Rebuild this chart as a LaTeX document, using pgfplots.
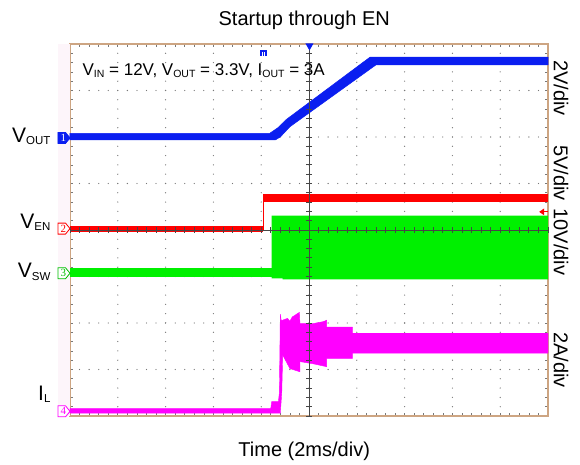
\documentclass[border=0pt]{standalone}
\usepackage{fontspec}
\setmainfont{Liberation Sans}
\newfontfamily\serifnum{Liberation Serif}
\usepackage{pgfplots}
\pgfplotsset{compat=1.18}
\definecolor{tblue}{RGB}{10,30,240}
\definecolor{tred}{RGB}{255,0,0}
\definecolor{tgreen}{RGB}{0,240,0}
\definecolor{tgreend}{RGB}{0,190,0}
\definecolor{tmag}{RGB}{255,0,255}
\definecolor{framec}{RGB}{205,165,130}
\definecolor{gridc}{RGB}{120,120,120}
\definecolor{crossc}{RGB}{70,70,70}
\definecolor{pinkbg}{RGB}{253,245,250}
\newcommand{\subS}[1]{\raisebox{-0.25ex}{\fontsize{10.5}{10.5}\selectfont #1}}
\newcommand{\subL}[1]{\raisebox{-0.2ex}{\fontsize{11.5}{11.5}\selectfont #1}}
% channel marker: #1 = y, #2 = fill, #3 = draw/text colour, #4 = number
\newcommand{\chmark}[4]{%
  \filldraw[fill=#2, draw=#3, line width=0.8pt] (axis cs:0,#1) -- ++(-4.5pt,5.5pt) -- ++(-7.5pt,0) -- ++(0,-11pt) -- ++(7.5pt,0) -- cycle;
  \node[text=#4, font=\fontsize{11}{11}\selectfont\serifnum, inner sep=0pt] at ([xshift=-6.8pt]axis cs:0,#1) {\strut\raisebox{0pt}{}};}
\begin{document}
\begin{tikzpicture}
\useasboundingbox (-70pt,-49pt) rectangle (510pt,416pt);
\begin{axis}[
  at={(0,0)}, anchor=south west,
  scale only axis, width=478pt, height=372pt,
  xmin=0, xmax=10, ymin=0, ymax=8,
  clip=false,
  xtick={0,...,10}, ytick={0,...,8},
  minor x tick num=4, minor y tick num=4,
  xticklabels={}, yticklabels={},
  tick align=inside,
  major tick length=3pt, minor tick length=3pt,
  tick style={gridc, line width=0.6pt},
  axis line style={framec, line width=1.2pt},
  grid=major,
  x grid style={gridc, line width=1.3pt, line cap=round, dash pattern=on 0pt off 9.3pt},
  y grid style={gridc, line width=1.3pt, line cap=round, dash pattern=on 0pt off 9.56pt},
]
\fill[pinkbg] (axis cs:-0.25,0) rectangle (axis cs:0,8);

% VOUT
\addplot[fill=tblue, draw=tblue, line width=0.5pt] coordinates {
 (0,5.94) (0,6.08) (4.18,6.08) (4.35,6.20) (4.53,6.38) (6.28,7.72) (10,7.72) (10,7.55) (6.40,7.55)
 (4.60,6.22) (4.40,6.0) (4.30,5.94)} --cycle;

% VEN
\addplot[fill=tred, draw=none] coordinates {(0,3.95) (0,4.09) (4.044,4.09) (4.044,3.95)} --cycle;
\addplot[tred, line width=1pt] coordinates {(4.044,4.0) (4.044,4.68)};
\addplot[fill=tred, draw=none] coordinates {(4.044,4.60) (4.044,4.77) (10,4.77) (10,4.60)} --cycle;

% VSW
\addplot[fill=tgreen, draw=none] coordinates {(0,2.99) (0,3.18) (4.22,3.18) (4.22,2.99)} --cycle;
\addplot[fill=tgreen, draw=none] coordinates {
 (4.22,2.96) (4.22,4.31) (10,4.31) (10,2.94) (4.45,2.94) (4.45,2.96)} --cycle;

% IL
\addplot[fill=tmag, draw=tmag, line width=0.4pt] coordinates {
 (0,0.06) (0,0.16) (4.20,0.16) (4.22,0.31) (4.36,0.31) (4.38,0.5) (4.40,2.19) (4.42,2.05)
 (4.55,2.10) (4.60,2.04) (4.65,2.13) (4.80,2.23) (4.81,1.99) (5.10,1.99) (5.30,2.03) (5.37,2.06)
 (5.37,1.91) (5.91,1.91) (5.91,1.78) (10,1.78) (10,1.35) (5.91,1.35) (5.91,1.24)
 (5.37,1.24) (5.37,1.06) (5.10,1.12) (4.81,1.17) (4.81,0.95) (4.60,1.02) (4.45,1.31)
 (4.43,0.5) (4.40,0.06)} --cycle;

% centre crosshair with ticks
\draw[crossc, line width=0.8pt] (axis cs:0,4) -- (axis cs:10,4);
\draw[crossc, line width=0.8pt] (axis cs:5.01,0) -- (axis cs:5.01,8);
\draw[crossc, line width=6pt, dash pattern=on 0.8pt off 8.76pt, dash phase=0.4pt] (axis cs:0,4) -- (axis cs:10,4);
\draw[crossc, line width=6pt, dash pattern=on 0.8pt off 8.5pt, dash phase=0.4pt] (axis cs:5.01,0) -- (axis cs:5.01,8);

% channel markers
\filldraw[fill=tblue, draw=tblue, line width=0.8pt] (axis cs:0,5.98) -- ++(-4.5pt,5.5pt) -- ++(-7.5pt,0) -- ++(0,-11pt) -- ++(7.5pt,0) -- cycle;
\node[text=white, font=\fontsize{11}{11}\selectfont\serifnum, inner sep=0pt] at ([xshift=-6.5pt]axis cs:0,5.98) {1};
\filldraw[fill=white, draw=tred, line width=0.8pt] (axis cs:0,4.03) -- ++(-4.5pt,5.5pt) -- ++(-7.5pt,0) -- ++(0,-11pt) -- ++(7.5pt,0) -- cycle;
\node[text=tred, font=\fontsize{11}{11}\selectfont\serifnum, inner sep=0pt] at ([xshift=-6.5pt]axis cs:0,4.03) {2};
\filldraw[fill=white, draw=tgreend, line width=0.8pt] (axis cs:0,3.07) -- ++(-4.5pt,5.5pt) -- ++(-7.5pt,0) -- ++(0,-11pt) -- ++(7.5pt,0) -- cycle;
\node[text=tgreend, font=\fontsize{11}{11}\selectfont\serifnum, inner sep=0pt] at ([xshift=-6.5pt]axis cs:0,3.07) {3};
\filldraw[fill=white, draw=tmag, line width=0.8pt] (axis cs:0,0.10) -- ++(-4.5pt,5.5pt) -- ++(-7.5pt,0) -- ++(0,-11pt) -- ++(7.5pt,0) -- cycle;
\node[text=tmag, font=\fontsize{11}{11}\selectfont\serifnum, inner sep=0pt] at ([xshift=-6.5pt]axis cs:0,0.10) {4};

% trigger markers
\fill[tblue] (axis cs:5.01,8) ++(-4pt,0.5pt) -- ++(8pt,0) -- ++(-4pt,-7pt) -- cycle;
\fill[tblue] (axis cs:4.04,7.8) ++(-3.5pt,-3pt) rectangle ++(7pt,6pt);
\fill[white] (axis cs:4.04,7.8) ++(-1.5pt,-3pt) rectangle ++(1pt,4pt);
\fill[white] (axis cs:4.04,7.8) ++(0.5pt,-3pt) rectangle ++(1pt,4pt);
\fill[tred] (axis cs:9.9,4.39) ++(-4pt,0) -- ++(5pt,3.5pt) -- ++(0,-7pt) -- cycle;
\draw[tred, line width=1pt] (axis cs:9.9,4.39) -- (axis cs:10,4.39);

% texts
\node[anchor=base west, font=\fontsize{17}{17}\selectfont] at (axis cs:0.19,7.333)
  {V\subS{IN} = 12V, V\subS{OUT} = 3.3V, I\subS{OUT} = 3A};
\node[anchor=base east, font=\fontsize{21}{21}\selectfont] at (axis cs:-0.335,5.89) {V\subL{OUT}};
\node[anchor=base east, font=\fontsize{21}{21}\selectfont] at (axis cs:-0.335,4.04) {V\subL{EN}};
\node[anchor=base east, font=\fontsize{21}{21}\selectfont] at (axis cs:-0.335,2.97) {V\subL{SW}};
\node[anchor=base east, font=\fontsize{21}{21}\selectfont] at (axis cs:-0.335,0.344) {I\subL{L}};

\node[rotate=-90, font=\fontsize{20}{20}\selectfont] at (axis cs:10.27,7.05) {2V/div};
\node[rotate=-90, font=\fontsize{20}{20}\selectfont] at (axis cs:10.27,5.23) {5V/div};
\node[rotate=-90, font=\fontsize{20}{20}\selectfont] at (axis cs:10.27,3.74) {10V/div};
\node[rotate=-90, font=\fontsize{20}{20}\selectfont] at (axis cs:10.27,1.20) {2A/div};

\node[anchor=base, font=\fontsize{20}{20}\selectfont] at (axis cs:4.9,8.40) {Startup through EN};
\node[anchor=base, font=\fontsize{20}{20}\selectfont] at (axis cs:4.9,-0.875) {Time (2ms/div)};
\end{axis}
\end{tikzpicture}
\end{document}
